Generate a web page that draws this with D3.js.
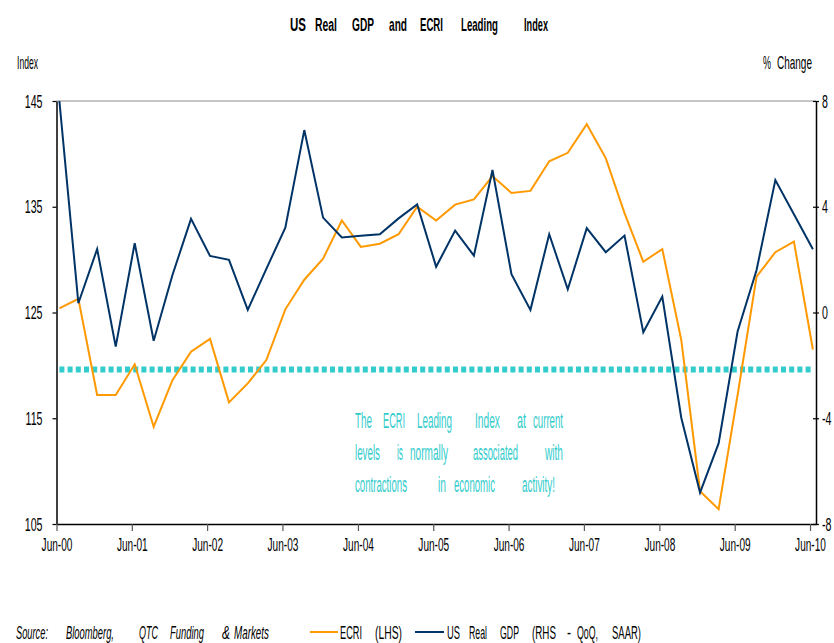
<!DOCTYPE html>
<html>
<head>
<meta charset="utf-8">
<script src="https://cdn.jsdelivr.net/npm/d3@7"></script>
<style>
body { margin: 0; background: #fff; }
svg text { font-family: "Liberation Sans", Arial, sans-serif; fill: #000; }
</style>
</head>
<body>
<svg id="chart" width="834" height="643"></svg>
<script>
// quarterly observations, Jun-00 .. Jun-10
var quarters = ["Jun-00", "Sep-00", "Dec-00", "Mar-01", "Jun-01", "Sep-01", "Dec-01", "Mar-02",
    "Jun-02", "Sep-02", "Dec-02", "Mar-03", "Jun-03", "Sep-03", "Dec-03", "Mar-04",
    "Jun-04", "Sep-04", "Dec-04", "Mar-05", "Jun-05", "Sep-05", "Dec-05", "Mar-06",
    "Jun-06", "Sep-06", "Dec-06", "Mar-07", "Jun-07", "Sep-07", "Dec-07", "Mar-08",
    "Jun-08", "Sep-08", "Dec-08", "Mar-09", "Jun-09", "Sep-09", "Dec-09", "Mar-10", "Jun-10"];
var ecriValues = [125.4, 126.3, 117.2, 117.2, 120.1, 114.2, 118.6, 121.3,
    122.5, 116.5, 118.3, 120.5, 125.3, 128.1, 130.1, 133.7,
    131.2, 131.5, 132.4, 135.0, 133.7, 135.2, 135.7, 137.9,
    136.3, 136.5, 139.3, 140.1, 142.8, 139.6, 134.4, 129.8,
    131.0, 122.4, 108.1, 106.4, 117.2, 128.4, 130.7, 131.7, 121.5];
var gdpValues = [8.0, 0.35, 2.4, -1.29, 2.62, -1.07, 1.42, 3.54,
    2.14, 1.99, 0.1, 1.65, 3.21, 6.9, 3.59, 2.84,
    2.9, 2.96, 3.56, 4.09, 1.73, 3.1, 2.15, 5.39,
    1.45, 0.1, 2.96, 0.88, 3.19, 2.28, 2.91, -0.75,
    0.6, -3.98, -6.81, -4.95, -0.72, 1.61, 5.01, 3.72, 2.39];
var recessionLevel = 119.6;
var leftTicks = [105, 115, 125, 135, 145];
var rightTicks = [-8, -4, 0, 4, 8];
var xTickLabels = ["Jun-00", "Jun-01", "Jun-02", "Jun-03", "Jun-04", "Jun-05",
    "Jun-06", "Jun-07", "Jun-08", "Jun-09", "Jun-10"];

var ORANGE = "#FF9900";
var NAVY = "#003366";
var TEAL = "#33CCCC";

var svg = d3.select("#chart");
var parseQ = d3.timeParse("%b-%y");
// observations sit mid-month, ticks at the first of the month
var obsDates = quarters.map(function (q) {
    return d3.timeDay.offset(parseQ(q), 14);
});
var tickDates = xTickLabels.map(parseQ);

var x = d3.scaleTime()
    .domain([parseQ("Jun-00"), new Date(2010, 5, 30)])
    .range([56.5, 816]);
var yL = d3.scaleLinear().domain([105, 145]).range([524, 101]);
var yR = d3.scaleLinear().domain([-8, 8]).range([524, 101]);

// squeeze axis labels horizontally around their anchor point (narrow chart font)
function squeeze(sel, factor) {
    sel.each(function () {
        var t = d3.select(this);
        var tx = +t.attr("x") || 0;
        var ty = +t.attr("y") || 0;
        t.attr("x", 0).attr("y", 0)
            .attr("transform", "translate(" + tx + "," + ty + ") scale(" + factor + ",1)");
    });
}

// words placed by [text, x0, x1], scaled to fit the span
function placeWords(words, y, size, opts) {
    opts = opts || {};
    words.forEach(function (w) {
        var t = svg.append("text")
            .attr("font-size", size)
            .attr("font-weight", opts.bold ? "bold" : null)
            .attr("font-style", opts.italic ? "italic" : null)
            .style("fill", opts.color || "#000")
            .text(w[0]);
        var sx = (w[2] - w[1]) / t.node().getComputedTextLength();
        t.attr("transform", "translate(" + w[1] + "," + y + ") scale(" + sx + ",1)");
    });
}

// top border of plot area
svg.append("line")
    .attr("x1", x.range()[0]).attr("x2", x.range()[1])
    .attr("y1", yL(145)).attr("y2", yL(145))
    .attr("stroke", "#8c8c8c").attr("stroke-width", 1);

// axes
var gLeft = svg.append("g")
    .attr("transform", "translate(" + x.range()[0] + ",0)")
    .call(d3.axisLeft(yL).tickValues(leftTicks).tickSize(4).tickSizeOuter(0).tickPadding(10)
        .tickFormat(function (d) { return String(d); }));
var gRight = svg.append("g")
    .attr("transform", "translate(816,0)")
    .call(d3.axisRight(yR).tickValues(rightTicks).tickSize(3).tickSizeOuter(0).tickPadding(3)
        .tickFormat(function (d) { return String(d); }));
gRight.selectAll(".tick line").attr("x1", -3);
var gBottom = svg.append("g")
    .attr("transform", "translate(0,524)")
    .call(d3.axisBottom(x).tickValues(tickDates).tickSize(7).tickSizeOuter(0).tickPadding(7)
        .tickFormat(d3.timeFormat("%b-%y")));
gBottom.selectAll(".tick line").attr("stroke", "#555");

[gLeft, gRight, gBottom].forEach(function (g) {
    g.select(".domain").attr("stroke", "#000").attr("stroke-width", 1.5);
    g.selectAll(".tick line").attr("stroke-width", 1.2);
    g.selectAll("text").attr("font-size", 19).attr("font-family", null).style("fill", "#000");
});
gBottom.selectAll("text").attr("font-size", 18);
squeeze(gLeft.selectAll("text"), 0.56);
squeeze(gRight.selectAll("text"), 0.56);
squeeze(gBottom.selectAll("text"), 0.56);

// dotted recession threshold
svg.append("line")
    .attr("x1", x(obsDates[0])).attr("x2", x(obsDates[obsDates.length - 1]))
    .attr("y1", yL(recessionLevel)).attr("y2", yL(recessionLevel))
    .attr("stroke", TEAL).attr("stroke-width", 6)
    .attr("stroke-dasharray", "5,3.2");

// series
var ecriLine = d3.line()
    .x(function (d, i) { return x(obsDates[i]); })
    .y(function (d) { return yL(d); });
var gdpLine = d3.line()
    .x(function (d, i) { return x(obsDates[i]); })
    .y(function (d) { return yR(d); });

svg.append("path").datum(ecriValues)
    .attr("d", ecriLine)
    .attr("fill", "none").attr("stroke", ORANGE).attr("stroke-width", 2)
    .attr("stroke-linejoin", "miter");
svg.append("path").datum(gdpValues)
    .attr("d", gdpLine)
    .attr("fill", "none").attr("stroke", NAVY).attr("stroke-width", 2)
    .attr("stroke-linejoin", "miter");

// titles
placeWords([["US", 290, 306], ["Real", 315, 337], ["GDP", 352, 374], ["and", 389, 407],
    ["ECRI", 420, 443], ["Leading", 461, 498], ["Index", 524, 548]], 31, 18, {bold: true});
placeWords([["Index", 17, 38]], 69, 18);
placeWords([["%", 763, 771], ["Change", 777, 812]], 69, 18);

// annotation
placeWords([["The", 355, 372], ["ECRI", 383, 405], ["Leading", 417, 452], ["Index", 475, 500],
    ["at", 517, 526], ["current", 533, 563]], 428, 22, {color: TEAL});
placeWords([["levels", 355, 380], ["is", 397, 403], ["normally", 410, 448],
    ["associated", 473, 518], ["with", 545, 563]], 460, 22, {color: TEAL});
placeWords([["contractions", 355, 407], ["in", 438, 446], ["economic", 454, 495],
    ["activity!", 522, 555]], 492, 22, {color: TEAL});

// source + legend
placeWords([["Source:", 16, 48], ["Bloomberg,", 66, 114], ["QTC", 139, 158], ["Funding", 170, 204],
    ["&", 222, 230], ["Markets", 234, 269]], 639, 18, {italic: true});
svg.append("line").attr("x1", 310).attr("x2", 338).attr("y1", 632).attr("y2", 632)
    .attr("stroke", ORANGE).attr("stroke-width", 2);
svg.append("line").attr("x1", 415).attr("x2", 444).attr("y1", 632).attr("y2", 632)
    .attr("stroke", NAVY).attr("stroke-width", 2);
placeWords([["ECRI", 340, 362], ["(LHS)", 375, 402], ["US", 447, 460], ["Real", 469, 487],
    ["GDP", 500, 519], ["(RHS", 532, 556], ["-", 567, 571], ["QoQ,", 577, 598],
    ["SAAR)", 612, 641]], 639, 18);
</script>
</body>
</html>
